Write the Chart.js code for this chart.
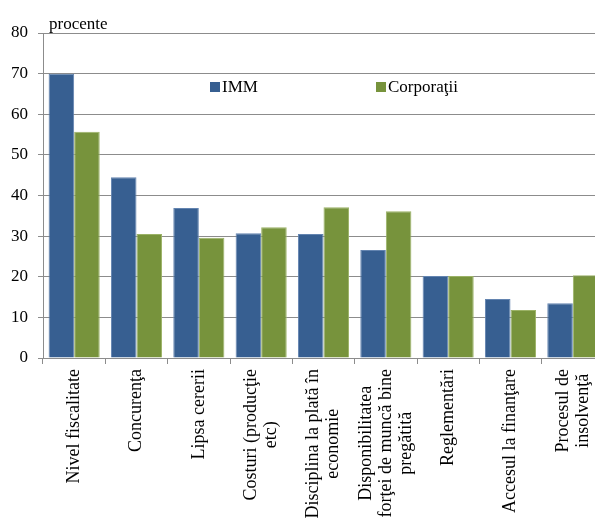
<!DOCTYPE html>
<html>
<head>
<meta charset="utf-8">
<script src="https://cdn.jsdelivr.net/npm/chart.js@4"></script>
<style>
  html, body { margin: 0; padding: 0; background: #fff; overflow: hidden; width: 595px; height: 520px; }
  canvas { display: block; }
</style>
</head>
<body>
<canvas id="c" width="610" height="520"></canvas>
<script>
const categories = [
  ["Nivel fiscalitate"],
  ["Concurenţa"],
  ["Lipsa cererii"],
  ["Costuri (producţie", "etc)"],
  ["Disciplina la plată în", "economie"],
  ["Disponibilitatea", "forţei de muncă bine", "pregătită"],
  ["Reglementări"],
  ["Accesul la finanţare"],
  ["Procesul de", "insolvenţă"]
];
const immValues  = [70.0, 44.5, 36.9, 30.7, 30.5, 26.6, 20.2, 14.5, 13.5];
const corpValues = [55.7, 30.5, 29.6, 32.2, 37.1, 36.1, 20.2, 11.8, 20.4];
const seriesNames = ["IMM", "Corporaţii"];
const yTicks = [0, 10, 20, 30, 40, 50, 60, 70, 80];
const yUnit = "procente";

const SERIF = "'Liberation Serif', serif";
const gridColor = '#8c8c8c';
Chart.defaults.font.family = SERIF;

const textPlugin = {
  id: 'textPlugin',
  afterDraw(chart) {
    const { ctx, chartArea, scales: { x } } = chart;
    ctx.save();
    ctx.font = '18px ' + SERIF;
    ctx.fillStyle = '#000';
    categories.forEach((lines, i) => {
      const px = x.getPixelForValue(i);
      const w = Math.max(...lines.map(l => ctx.measureText(l).width));
      ctx.save();
      ctx.translate(px, chartArea.bottom + 11);
      ctx.rotate(-Math.PI / 2);
      ctx.textAlign = 'center';
      ctx.textBaseline = 'middle';
      lines.forEach((l, j) => ctx.fillText(l, -w / 2, (j - (lines.length - 1) / 2) * 20));
      ctx.restore();
    });
    ctx.font = '17px ' + SERIF;
    ctx.textAlign = 'left';
    ctx.textBaseline = 'alphabetic';
    ctx.fillText(yUnit, chartArea.left + 6, chartArea.top - 4);
    const legendX = [210, 376];
    const legendY = 87;
    chart.data.datasets.forEach((ds, i) => {
      ctx.fillStyle = ds.backgroundColor;
      ctx.fillRect(legendX[i], legendY - 5, 10, 10);
      ctx.fillStyle = '#000';
      ctx.textBaseline = 'middle';
      ctx.fillText(ds.label, legendX[i] + 12, legendY + 1);
    });
    ctx.restore();
  }
};

new Chart(document.getElementById('c'), {
  type: 'bar',
  data: {
    labels: categories.map(c => c.join(' ')),
    datasets: [
      { label: seriesNames[0], data: immValues, backgroundColor: '#375F91', borderColor: '#6384b0', borderWidth: 1 },
      { label: seriesNames[1], data: corpValues, backgroundColor: '#77933C', borderColor: '#9bb266', borderWidth: 1 }
    ]
  },
  options: {
    responsive: false,
    devicePixelRatio: 1,
    animation: false,
    layout: { padding: { top: 33, right: 6, left: 0, bottom: 0 } },
    datasets: { bar: { categoryPercentage: 0.82, barPercentage: 1.0 } },
    plugins: { legend: { display: false }, tooltip: { enabled: false } },
    scales: {
      x: {
        grid: { drawOnChartArea: false, tickLength: 6, color: gridColor, offset: true },
        border: { color: gridColor },
        ticks: { color: 'rgba(0,0,0,0)', autoSkip: false, maxRotation: 90, minRotation: 90, font: { size: 8 } },
        afterFit(scale) { scale.height = 162; }
      },
      y: {
        min: 0, max: 80,
        afterBuildTicks(scale) { scale.ticks = yTicks.map(v => ({ value: v })); },
        grid: { color: gridColor, tickLength: 5 },
        border: { color: gridColor },
        ticks: { color: '#000', padding: 10, font: { family: SERIF, size: 17 } },
        afterFit(scale) { scale.width = 43; }
      }
    }
  },
  plugins: [textPlugin]
});
</script>
</body>
</html>
